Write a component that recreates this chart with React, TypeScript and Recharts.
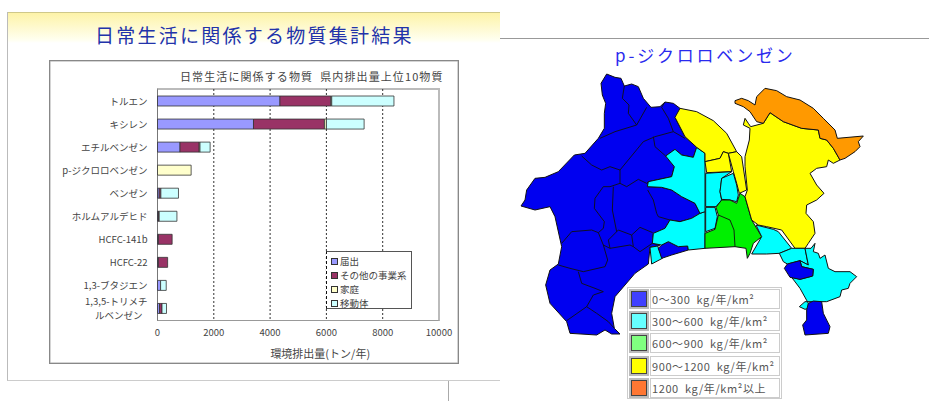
import React from "react";
import { BarChart, Bar, XAxis, YAxis, CartesianGrid, ScatterChart, Scatter } from "recharts";

const FONT = '"Noto Sans CJK JP", "Noto Sans", sans-serif';

const substances = ["トルエン", "キシレン", "エチルベンゼン", "p-ジクロロベンゼン", "ベンゼン", "ホルムアルデヒド", "HCFC-141b", "HCFC-22", "1,3-ブタジエン", "1,3,5-トリメチ\nルベンゼン"];
const reported = [4350, 3410, 800, 0, 60, 30, 30, 30, 110, 70];
const otherBusiness = [1810, 2520, 680, 0, 60, 30, 490, 330, 0, 90];
const household = [30, 70, 30, 1195, 0, 0, 0, 0, 0, 0];
const mobile = [2210, 1340, 360, 0, 625, 630, 0, 0, 200, 160];
const xTicks = [0, 2000, 4000, 6000, 8000, 10000];
const gridValues = [2000, 4000, 6000, 8000];
const barRows = substances.map((name, i) => ({ name, reported: reported[i], otherBusiness: otherBusiness[i], household: household[i], mobile: mobile[i] }));

const seriesNames = ["届出", "その他の事業系", "家庭", "移動体"];
const seriesKeys = ["reported", "otherBusiness", "household", "mobile"];
const seriesColors = ["#9999ff", "#993366", "#ffffcc", "#ccffff"];

type Pt = [number, number];
const BLUE = "#0000f0", CYAN = "#00ffff", GREEN = "#00f000", YELLOW = "#ffff00", ORANGE = "#ff9900";

const blueMain: Pt[] = [[75,510],[80,480],[105,445],[135,442],[175,425],[223,375],[255,370],[295,325],[313,295],[313,250],[317,220],[307,195],[303,160],[320,132],[345,142],[363,145],[373,168],[395,162],[415,170],[430,205],[453,232],[480,230],[495,216],[520,220],[540,235],[535,252],[525,262],[555,320],[590,352],[580,382],[545,375],[525,358],[497,378],[523,410],[515,440],[445,455],[442,470],[485,472],[515,480],[545,500],[585,520],[600,550],[575,565],[540,575],[510,570],[495,595],[460,610],[457,640],[480,645],[473,648],[450,652],[445,702],[405,730],[375,765],[345,800],[335,850],[343,895],[360,912],[335,912],[315,900],[290,915],[210,910],[200,875],[150,820],[137,765],[150,720],[175,702],[185,650],[165,560],[150,530],[105,540],[63,528]];
const cyanCoastWest: Pt[] = [[450,652],[473,648],[487,685],[455,702]];
const blueCoast: Pt[] = [[485,645],[505,635],[535,650],[563,648],[565,660],[515,675],[485,685],[475,655]];
const cyanSouth: Pt[] = [[460,610],[495,595],[510,570],[540,575],[575,565],[600,550],[615,545],[615,655],[565,660],[563,648],[535,650],[505,635],[485,645],[457,640]];
const cyanUpper: Pt[] = [[497,378],[525,358],[545,375],[580,382],[590,352],[615,370],[615,545],[600,550],[585,520],[545,500],[515,480],[485,472],[442,470],[445,455],[515,440],[523,410]];
const yellowNorth: Pt[] = [[525,262],[540,235],[590,245],[640,272],[680,310],[710,365],[685,370],[670,365],[660,385],[615,395],[615,370],[590,352],[555,320]];
const yellowLower: Pt[] = [[615,395],[660,385],[670,365],[685,370],[695,425],[620,428]];
const yellowThin: Pt[] = [[685,370],[710,365],[725,380],[740,480],[718,490],[710,460],[700,425]];
const cyanCentreA: Pt[] = [[617,430],[695,425],[665,445],[660,485],[665,510],[648,530],[617,530]];
const cyanCentreB: Pt[] = [[665,445],[700,430],[710,465],[715,495],[710,515],[690,510],[665,508],[660,485]];
const cyanSmall: Pt[] = [[617,532],[645,532],[652,560],[645,595],[617,605]];
const greenCentre: Pt[] = [[615,610],[645,598],[655,555],[648,532],[665,510],[690,510],[710,520],[720,490],[735,500],[755,570],[785,620],[760,640],[750,670],[742,685],[738,655],[705,650],[615,655]];
const yellowEast: Pt[] = [[730,285],[735,265],[745,280],[752,290],[790,280],[810,248],[850,275],[905,295],[955,300],[960,325],[980,330],[1000,355],[1020,390],[1000,400],[985,390],[980,410],[950,415],[930,430],[950,465],[972,490],[950,510],[920,525],[918,550],[940,575],[945,610],[925,640],[915,655],[885,655],[845,600],[800,590],[775,585],[755,570],[735,500],[742,480],[735,410],[735,380],[748,330],[750,295]];
const orangeNorth: Pt[] = [[705,212],[725,205],[745,212],[765,225],[770,200],[795,175],[830,182],[860,200],[900,210],[940,235],[970,265],[1005,300],[1012,325],[1090,318],[1075,335],[1080,350],[1065,365],[1035,385],[1020,390],[1000,355],[980,330],[960,325],[955,300],[905,295],[850,275],[810,248],[790,280],[770,275],[750,245],[730,230],[705,220]];
const cyanEastA: Pt[] = [[768,585],[820,598],[835,605],[875,655],[838,670],[800,672],[755,672],[785,620]];
const cyanEastB: Pt[] = [[838,670],[875,655],[915,655],[925,705],[900,692],[862,702],[850,695]];
const cyanMiura: Pt[] = [[915,655],[933,655],[945,640],[940,665],[955,670],[960,685],[975,675],[985,715],[1005,725],[1050,725],[1070,740],[1050,760],[1045,775],[1025,780],[1020,800],[980,815],[940,815],[915,815],[898,830],[915,838],[925,835],[925,820],[900,775],[875,742],[900,748],[938,738],[940,718],[905,710],[900,692],[925,705]];
const blueBay: Pt[] = [[853,715],[862,702],[900,692],[905,710],[940,718],[938,738],[900,748],[870,742]];
const blueTip: Pt[] = [[925,820],[940,813],[965,815],[970,850],[990,890],[985,910],[915,915],[908,885],[920,870],[920,840]];

const areas: { pts: Pt[]; fill: string }[] = [
  { pts: blueMain, fill: BLUE }, { pts: cyanCoastWest, fill: CYAN }, { pts: blueCoast, fill: BLUE },
  { pts: cyanSouth, fill: CYAN }, { pts: cyanUpper, fill: CYAN }, { pts: yellowNorth, fill: YELLOW },
  { pts: yellowLower, fill: YELLOW }, { pts: yellowThin, fill: YELLOW }, { pts: cyanCentreA, fill: CYAN },
  { pts: cyanCentreB, fill: CYAN }, { pts: cyanSmall, fill: CYAN }, { pts: greenCentre, fill: GREEN },
  { pts: yellowEast, fill: YELLOW }, { pts: orangeNorth, fill: ORANGE }, { pts: cyanEastA, fill: CYAN },
  { pts: cyanEastB, fill: CYAN }, { pts: cyanMiura, fill: CYAN }, { pts: blueBay, fill: BLUE }, { pts: blueTip, fill: BLUE },
];

const innerBorders: Pt[][] = [
  [[300,325],[345,305],[410,285],[440,232]],
  [[373,168],[367,205],[387,225],[385,250],[410,285]],
  [[495,216],[485,232],[505,265],[520,305],[465,320],[430,335],[360,420],[330,410],[305,420],[275,405],[245,378]],
  [[520,305],[555,325]],
  [[460,320],[465,350],[497,378]],
  [[360,420],[360,460],[380,470],[415,448],[440,460],[445,455]],
  [[360,460],[330,470],[310,470],[285,505],[283,535],[313,575],[310,595],[295,608],[275,600],[215,605],[185,640]],
  [[340,470],[337,540],[350,605]],
  [[295,608],[310,645],[330,655],[325,630],[355,600],[395,615],[420,592],[458,608]],
  [[395,615],[400,650],[420,665],[457,640]],
  [[330,655],[390,645],[400,650]],
  [[310,645],[323,690],[315,710],[250,725],[210,715],[175,705]],
  [[235,725],[245,760],[285,775],[310,785],[280,795],[260,830],[200,872]],
  [[260,830],[290,850],[325,875],[343,895]],
  [[443,480],[460,510],[470,550],[475,560],[510,570]],
  [[655,555],[690,570],[702,600],[705,650]],
];

const mapLegendLabels = ["0～300  kg/年/km²", "300～600  kg/年/km²", "600～900  kg/年/km²", "900～1200  kg/年/km²", "1200  kg/年/km²以上"];
const mapLegendColors = ["#4040ff", "#66ffff", "#80ff80", "#ffff00", "#ff7733"];

const toRows = (pts: Pt[]) => pts.map(([x, y]) => ({ x, y }));
const noDot = () => <g />;

const fillLine = (fill: string) => (p: any) => {
  const d = p.points.map((q: any, i: number) => `${i ? "L" : "M"}${q.x},${q.y}`).join("") + "Z";
  return <path d={d} fill={fill} stroke="#111" strokeWidth={1} strokeLinejoin="round" />;
};
const openLine = (p: any) => {
  const d = p.points.map((q: any, i: number) => `${i ? "L" : "M"}${q.x},${q.y}`).join("");
  return <path d={d} fill="none" stroke="#111" strokeWidth={0.9} strokeLinejoin="round" />;
};

const CatTick = (p: any) => {
  const lines = String(p.payload.value).split("\n");
  const y0 = p.y - (lines.length - 1) * 7;
  return (
    <text x={p.x} y={y0} fontSize={9.5} fill="#444" textAnchor="end" dominantBaseline="central" fontFamily={FONT}>
      {lines.map((l, i) => (
        <tspan key={i} x={p.x - (i ? 5 : 0)} dy={i ? 14 : 0}>{l}</tspan>
      ))}
    </text>
  );
};

const BarLegend = () => (
  <div style={{ position: "absolute", left: 326, top: 251, width: 86, height: 58, boxSizing: "border-box", border: "1px solid #555", borderLeft: "1px dashed #111", background: "#fff", padding: "3px 0 0 4px", fontFamily: FONT, fontSize: 9.5, color: "#444", lineHeight: "13.9px" }}>
    {seriesNames.map((n, i) => (
      <div key={n} style={{ display: "flex", alignItems: "center", whiteSpace: "nowrap" }}>
        <span style={{ width: 5, height: 5, border: "1px solid #333", background: seriesColors[i], marginRight: 2, flex: "none" }} />
        {n}
      </div>
    ))}
  </div>
);

export default function App() {
  return (
    <div style={{ position: "absolute", left: 0, top: 0, width: 929, height: 401, overflow: "hidden", background: "#fff", fontFamily: FONT }}>
      {/* left slide */}
      <div style={{ position: "absolute", left: 7, top: 12, width: 493, height: 369, boxSizing: "border-box", borderLeft: "1px solid #bbb", borderBottom: "1px solid #ccc" }} />
      <div style={{ position: "absolute", left: 8, top: 12, width: 492, height: 30, background: "linear-gradient(#fdf3a8, #fffff0 90%, #fff)", borderTop: "1px solid #cfc88a" }} />
      <div style={{ position: "absolute", left: 95, top: 21, fontSize: 19, lineHeight: "28px", letterSpacing: 2.25, color: "#2233aa", whiteSpace: "nowrap" }}>日常生活に関係する物質集計結果</div>
      <div style={{ position: "absolute", left: 448, top: 381, width: 1, height: 20, background: "#aaa" }} />
      <div style={{ position: "absolute", left: 500, top: 38, width: 429, height: 1, background: "#999" }} />

      {/* bar chart */}
      <div style={{ position: "absolute", left: 49, top: 60, width: 410, height: 304, boxSizing: "border-box", border: "1px solid #888", boxShadow: "inset 0 0 0 0.5px #aaa" }} />
      <div style={{ position: "absolute", left: 157, top: 88, width: 283, height: 233, boxSizing: "border-box", borderTop: "2px solid #bbb", borderRight: "2px solid #bbb", borderBottom: "1px solid #999", borderLeft: "1px solid #777" }} />
      <div style={{ position: "absolute", left: 180, top: 69, fontSize: 11, lineHeight: "15px", letterSpacing: 1.1, color: "#444", whiteSpace: "pre" }}>日常生活に関係する物質  県内排出量上位10物質</div>
      <div style={{ position: "absolute", left: 0, top: 0 }}>
        <BarChart width={500} height={370} data={barRows} layout="vertical" barSize={10} barCategoryGap={0}
          margin={{ left: 53.5, top: 89, right: 61, bottom: 0 }} style={{ fontFamily: FONT }}>
          <CartesianGrid horizontal={false} verticalValues={gridValues} stroke="#333" strokeDasharray="2 2" />
          <XAxis type="number" domain={[0, 10000]} ticks={xTicks} tickLine={false} axisLine={false} tickMargin={4}
            tick={{ fontSize: 9.5, fill: "#444" }} interval={0} height={50.5}
            label={{ value: "環境排出量(トン/年)", position: "insideBottom", offset: 12, dx: 22, fontSize: 11, fill: "#444" }} />
          <YAxis type="category" dataKey="name" tick={CatTick} tickLine={false} axisLine={false} interval={0} width={104} tickMargin={4} />
          {seriesKeys.map((k, i) => (
            <Bar key={k} dataKey={k} name={seriesNames[i]} stackId="a" fill={seriesColors[i]} stroke="#333" strokeWidth={0.8} isAnimationActive={false} />
          ))}
        </BarChart>
      </div>
      <BarLegend />

      {/* map */}
      <div style={{ position: "absolute", left: 615, top: 43, fontSize: 17, lineHeight: "24px", letterSpacing: 2.8, color: "#2a2aee", whiteSpace: "nowrap" }}>p-ジクロロベンゼン</div>
      <div style={{ position: "absolute", left: 500, top: 30 }}>
        <ScatterChart width={429} height={370} margin={{ left: 0, right: 0, top: 0, bottom: 0 }}>
          <XAxis type="number" dataKey="x" domain={[0, 1287]} hide />
          <YAxis type="number" dataKey="y" domain={[0, 1110]} reversed hide />
          {areas.map((a, i) => (
            <Scatter key={i} data={toRows(a.pts)} line={fillLine(a.fill)} shape={noDot} isAnimationActive={false} />
          ))}
          {innerBorders.map((b, i) => (
            <Scatter key={"b" + i} data={toRows(b)} line={openLine} shape={noDot} isAnimationActive={false} />
          ))}
        </ScatterChart>
      </div>
      <div style={{ position: "absolute", left: 627, top: 287, width: 155, height: 112, boxSizing: "border-box", background: "#fff", border: "1px solid #ccc", padding: 1 }}>
        {mapLegendLabels.map((l, i) => (
          <div key={l} style={{ display: "flex", height: 22, marginBottom: i < 4 ? 0.2 : 0 }}>
            <div style={{ width: 20, height: 20, boxSizing: "border-box", border: "2px solid #bbb", marginRight: 1, flex: "none" }}>
              <div style={{ width: 16, height: 16, boxSizing: "border-box", border: "1px solid #444", background: mapLegendColors[i] }} />
            </div>
            <div style={{ flex: 1, height: 20, boxSizing: "border-box", border: "1px solid #ccc", fontSize: 11, letterSpacing: 0.6, lineHeight: "18px", color: "#555", whiteSpace: "pre", paddingLeft: 1 }}>{l}</div>
          </div>
        ))}
      </div>
    </div>
  );
}
